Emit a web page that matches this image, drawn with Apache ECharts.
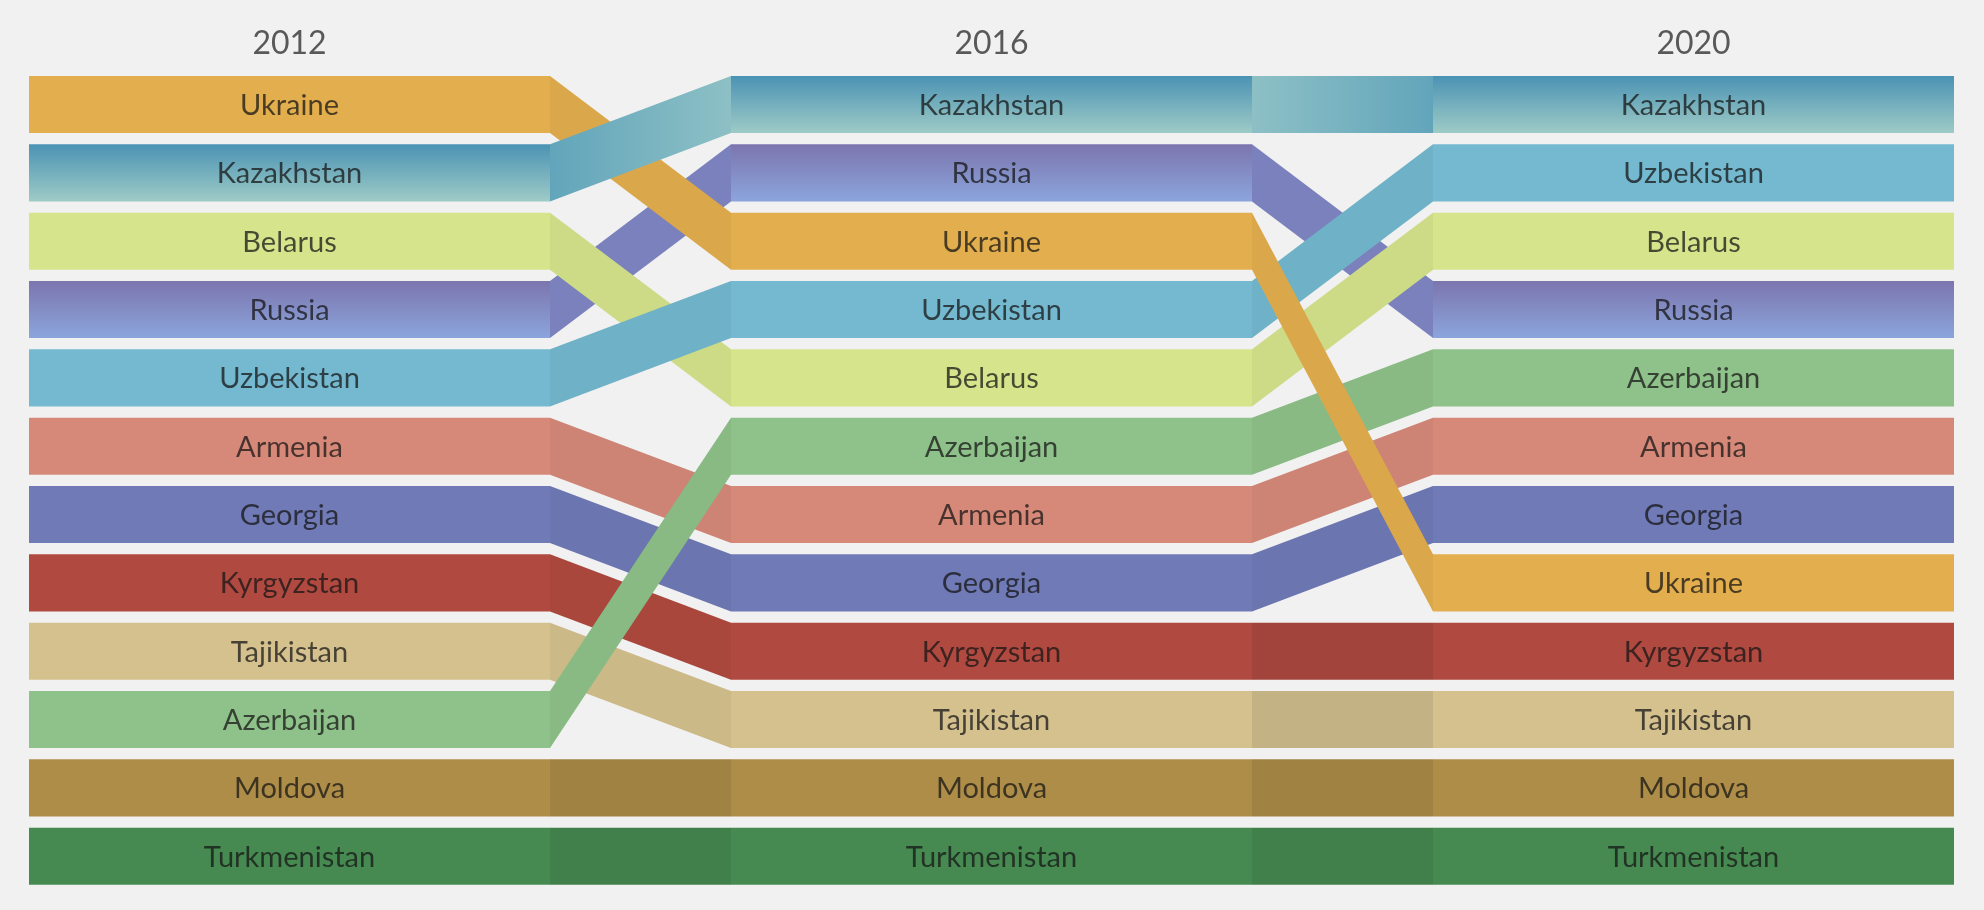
<!DOCTYPE html>
<html><head><meta charset="utf-8">
<script src="https://cdn.jsdelivr.net/npm/echarts@6/dist/echarts.min.js"></script>
<style>html,body{margin:0;background:#f1f1f1}#c{width:1984px;height:910px}</style>
</head><body><div id="c"></div>
<script>
const years = ['2012', '2016', '2020'];
const rank2012 = ['Ukraine','Kazakhstan','Belarus','Russia','Uzbekistan','Armenia','Georgia','Kyrgyzstan','Tajikistan','Azerbaijan','Moldova','Turkmenistan'];
const rank2016 = ['Kazakhstan','Russia','Ukraine','Uzbekistan','Belarus','Azerbaijan','Armenia','Georgia','Kyrgyzstan','Tajikistan','Moldova','Turkmenistan'];
const rank2020 = ['Kazakhstan','Uzbekistan','Belarus','Russia','Azerbaijan','Armenia','Georgia','Ukraine','Kyrgyzstan','Tajikistan','Moldova','Turkmenistan'];
const rankings = [rank2012, rank2016, rank2020];
// drawing order of connecting bands per gap (last = on top)
const linkOrder0 = ['Moldova','Turkmenistan','Russia','Ukraine','Kazakhstan','Belarus','Uzbekistan','Armenia','Georgia','Tajikistan','Kyrgyzstan','Azerbaijan'];
const linkOrder1 = ['Moldova','Turkmenistan','Kazakhstan','Kyrgyzstan','Tajikistan','Russia','Uzbekistan','Belarus','Georgia','Armenia','Azerbaijan','Ukraine'];
const linkOrders = [linkOrder0, linkOrder1];

const colors = {
  Ukraine:'#e3ae4e', Kazakhstan:['#4b93b4','#9ecbc6'], Belarus:'#d6e48c', Russia:['#7c75ae','#8ba5dc'],
  Uzbekistan:'#74b9cf', Armenia:'#d78979', Georgia:'#6f7ab6', Kyrgyzstan:'#b04a40',
  Tajikistan:'#d4c18e', Azerbaijan:'#8fc28a', Moldova:'#ae8d48', Turkmenistan:'#478a51'
};
const linkColors = {Russia:'#7f86c4'};

const COLW = 521, STEP = 702, BARH = 0.835;
function darken(h, f){const n=parseInt(h.slice(1),16);const r=Math.round((n>>16)*f),g=Math.round(((n>>8)&255)*f),b=Math.round((n&255)*f);return 'rgb('+r+','+g+','+b+')';}
function fill(name){const c=colors[name];return Array.isArray(c)?{type:'linear',x:0,y:0,x2:0,y2:1,colorStops:[{offset:0,color:c[0]},{offset:1,color:c[1]}]}:c;}
function lfill(name, same, ci){
  if(name==='Kazakhstan'){const a='#62a5bb',b='#8dc0c5';return {type:'linear',x:0,y:0,x2:1,y2:0,colorStops:[{offset:0,color:ci===0?a:b},{offset:1,color:ci===0?b:a}]};}
  const base=linkColors[name]||colors[name];return darken(base, same?0.92:0.96);
}

const bars=[], links=[];
rankings.forEach((list,ci)=>list.forEach((name,r)=>bars.push([ci,r,name])));
for(let ci=0;ci<rankings.length-1;ci++){
  linkOrders[ci].forEach(name=>{links.push([ci,rankings[ci].indexOf(name),rankings[ci+1].indexOf(name),name]);});
}
const heads = years.map((y,i)=>[i,y]);

const chart = echarts.init(document.getElementById('c'));
chart.setOption({
  backgroundColor:'#f1f1f1',
  animation:false,
  grid:{left:29,right:29,top:76,height:820},
  xAxis:{type:'value',min:0,max:1926,show:false},
  yAxis:{type:'value',min:0,max:12,inverse:true,show:false},
  series:[
    {type:'custom',data:links,renderItem:(p,api)=>{
      const d=links[p.dataIndex];const ci=d[0],r1=d[1],r2=d[2],name=d[3];
      const x1=ci*STEP+COLW,x2=(ci+1)*STEP;
      const a=api.coord([x1,r1]),b=api.coord([x1,r1+BARH]),c=api.coord([x2,r2+BARH]),e=api.coord([x2,r2]);
      return {type:'polygon',shape:{points:[a,b,c,e]},style:{fill:lfill(name,r1===r2,ci)}};
    }},
    {type:'custom',data:bars,renderItem:(p,api)=>{
      const d=bars[p.dataIndex];const ci=d[0],r=d[1],name=d[2];
      const a=api.coord([ci*STEP,r]),b=api.coord([ci*STEP+COLW,r+BARH]);
      return {type:'group',children:[
        {type:'rect',shape:{x:a[0],y:a[1],width:b[0]-a[0],height:b[1]-a[1]},style:{fill:fill(name)}},
        {type:'text',style:{text:name,x:(a[0]+b[0])/2,y:(a[1]+b[1])/2+1,align:'center',verticalAlign:'middle',fill:'rgba(20,20,20,0.74)',font:'29px Lato'}}
      ]};
    }},
    {type:'custom',data:heads,renderItem:(p,api)=>{
      const d=heads[p.dataIndex];const a=api.coord([d[0]*STEP+COLW/2,0]);
      return {type:'text',style:{text:d[1],x:a[0],y:a[1]-32,align:'center',verticalAlign:'middle',fill:'#595959',font:'32px Lato'}};
    }}
  ]
});
</script></body></html>
